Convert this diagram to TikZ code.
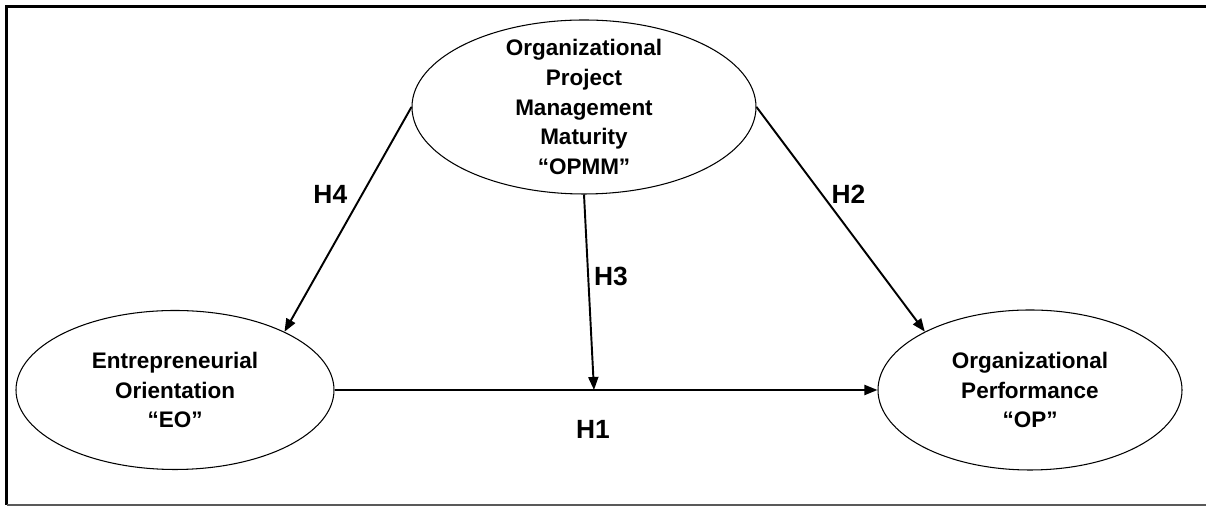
\documentclass[tikz,border=0pt]{standalone}
\usepackage{fontspec}
\setmainfont{Liberation Sans}
\usepackage{tikz}
\usetikzlibrary{shapes.geometric}
\usetikzlibrary{arrows.meta}
\tikzstyle{construct}=[ellipse,draw=black,line width=0.6pt,inner sep=0mm]
\tikzstyle{hyp}=[font=\fontsize{15}{17}\selectfont\bfseries,inner sep=1mm]
\tikzstyle{hlink}=[-{Triangle[length=2.6mm,width=2mm]},line width=1.1pt]
\tikzstyle{cname}=[align=center,font=\fontsize{12.8}{17}\selectfont\bfseries]

\begin{document}
\begin{tikzpicture}
    \useasboundingbox (0,0) rectangle (24.12,10.14);
    \draw[line width=1.7pt] (0.13,0.04) -- (0.13,10.01) -- (24.12,10.01);
    \draw[black!65,line width=1.1pt] (0.13,0.04) -- (24.12,0.04);
    \node[construct,minimum width=6.88cm,minimum height=3.48cm,
      label={[cname]center:Organizational\\Project\\Management\\Maturity\\``OPMM''}] at (11.68,8.0) (opmm) {};
    \node[construct,minimum width=6.36cm,minimum height=3.18cm,
      label={[cname]center:Entrepreneurial\\Orientation\\``EO''}] at (3.5,2.34) (eo) {};
    \node[construct,minimum width=6.08cm,minimum height=3.2cm,
      label={[cname]center:Organizational\\Performance\\``OP''}] at (20.6,2.34) (op) {};
    \coordinate (meet) at (11.88,2.34);
    \draw[hlink] (eo.east) to node [hyp,pos=0.476,below=14pt] {H1} (op.west);
    \draw[hlink] (opmm.east) to node [hyp,pos=0.39,right=2pt] {H2} (op.151);
    \draw[hlink] (opmm.south) to node [hyp,pos=0.42,right=0pt] {H3} (meet);
    \draw[hlink] (opmm.west) to node [hyp,pos=0.39,left=5pt] {H4} (eo.28);
  \end{tikzpicture}
\end{document}
